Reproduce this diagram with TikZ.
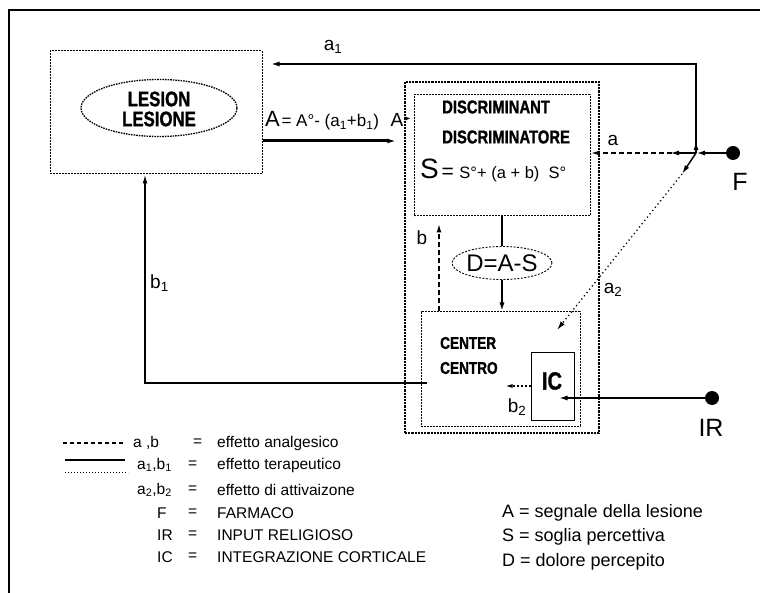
\documentclass[tikz,border=0pt]{standalone}
\usepackage{fontspec}
\setmainfont{Liberation Sans}
\newfontfamily\condfont[FakeStretch=0.8,BoldFeatures={FakeBold=1.2}]{Liberation Sans}
\usepackage{tikz}
\usetikzlibrary{arrows.meta,positioning,shapes.geometric,calc}

\begin{document}
\begin{tikzpicture}[x=1pt,y=-1pt,
  dotbox/.style={draw, line width=1pt, dash pattern=on 1.6pt off 1.4pt, inner sep=0pt},
  denbox/.style={draw, line width=1.4pt, dash pattern=on 2.2pt off 1pt, inner sep=0pt},
  caps/.style={align=left, inner sep=0pt},
  lbl/.style={font=\fontsize{19}{22}\selectfont, inner sep=0pt},
  leg/.style={font=\fontsize{15.5}{18}\selectfont, inner sep=0pt, anchor=west},
  legr/.style={font=\fontsize{18}{20}\selectfont, inner sep=0pt, anchor=west},
  arr/.style={-{Latex[length=9pt,width=5pt]}},
  blob/.style={circle, fill, minimum size=14pt, inner sep=0pt}
]
\useasboundingbox (0,0) rectangle (760,593);
% frame
\draw[line width=1.3pt] (9,593) -- (9,10) -- (760,10);

% lesion
\node[dotbox, minimum width=212pt, minimum height=123pt] (lesbox) at (156,112.5) {};
\node[draw, ellipse, line width=1.3pt, dash pattern=on 1.6pt off 1pt,
      minimum width=156pt, minimum height=57pt, inner sep=0pt] (lesell) at (159,108) {};
\node[caps, align=center, font=\condfont\bfseries\fontsize{21}{20}\selectfont] (leslbl) at (159,109) {LESION\\LESIONE};

% discriminant
\node[denbox, minimum width=194pt, minimum height=351pt] (discouter) at (502,257.5) {};
\node[dotbox, minimum width=176pt, minimum height=121pt] (discbox) at (502,155.5) {};
\node[caps, anchor=west, font=\condfont\bfseries\fontsize{18.5}{30}\selectfont] (disclbl) at (442,122) {DISCRIMINANT\\DISCRIMINATORE};
\node[inner sep=0pt, anchor=base west] (sform) at (420,179)
  {{\fontsize{28}{28}\selectfont S} {\fontsize{21}{21}\selectfont =}\ \ {\fontsize{16.5}{16}\selectfont S°+ (a + b)\ \ S°}};

\node[draw, ellipse, line width=0.9pt, dash pattern=on 2pt off 1.5pt,
      minimum width=100pt, minimum height=33pt, inner sep=0pt] (dell) at (502,263) {};
\node[inner sep=0pt, font=\fontsize{24}{24}\selectfont] (dlbl) at (502,263) {D=A-S};

% center
\node[dotbox, minimum width=159pt, minimum height=114pt] (centbox) at (500.5,369) {};
\node[caps, anchor=west, font=\condfont\bfseries\fontsize{17}{25}\selectfont] (centlbl) at (440,355.5) {CENTER\\CENTRO};
\node[draw, line width=0.9pt, minimum width=43pt, minimum height=68pt, inner sep=0pt] (icbox) at (552.5,386) {};
\node[inner sep=0pt, font=\condfont\bfseries\fontsize{25}{25}\selectfont] (iclbl) at (552,381) {IC};

% inputs
\node[blob] (Fdot) at (733,153) {};
\node[inner sep=0pt, font=\fontsize{25}{25}\selectfont] (Flbl) at (740,182) {F};
\node[blob] (IRdot) at (712,398) {};
\node[inner sep=0pt, font=\fontsize{25}{25}\selectfont] (IRlbl) at (711,428) {IR};

\coordinate (jct) at (696,153);
\coordinate (a1top) at (696,64);
\coordinate (a2mid) at (682,174);
\coordinate (a2end) at (557,330);

% F paths
\draw[line width=1.8pt, arr] (Fdot) -- (jct);
\draw[line width=1.8pt, arr] (jct) -- ++(0,-12);
\draw[line width=1.8pt, arr, shorten >=8pt] (jct) -- (a1top) -- (a1top -| lesbox.east);
\node[lbl] (a1lbl) at (333,47) {a\textsubscript{1}};
\draw[line width=1.7pt, dash pattern=on 5pt off 3pt, arr] (jct) -- (discbox.east |- jct);
\draw[line width=1.7pt, arr] (jct) -- ++(-26,0);
\node[lbl] (albl) at (613,140) {a};
\draw[line width=1.5pt, arr] (jct) -- (a2mid);
\draw[line width=1.3pt, dash pattern=on 1.2pt off 3pt, arr] (a2mid) -- (a2end);
\node[lbl] (a2lbl) at (613,290) {a\textsubscript{2}};

% lesion signal
\draw[line width=3pt, arr, shorten >=8pt] ([yshift=-28.5pt]lesbox.east) -- ([yshift=-28.5pt]lesbox.east -| discouter.west);
\node[inner sep=0pt, anchor=base west] (Aform) at (265,127)
  {{\fontsize{22}{22}\selectfont A}\,{\fontsize{17}{17}\selectfont = A°- (a\textsubscript{1}+b\textsubscript{1})}};
\node[inner sep=0pt, anchor=base, font=\fontsize{19}{19}\selectfont] (Asig) at (397,127) {A};
\draw[line width=1pt, -{Latex[length=5pt,width=4pt]}] ([yshift=2pt]Asig.east) -- ++(7,0);

% D links
\draw[line width=2.4pt] (discbox.south) -- (dell.north);
\draw[line width=2.4pt, arr] (dell.south) -- (dell.south |- centbox.north);
\draw[line width=1.7pt, dash pattern=on 5pt off 3pt, arr, shorten >=7pt]
  ([xshift=-61.5pt]centbox.north) -- ([xshift=-61.5pt]centbox.north |- discbox.south);
\node[lbl] (blbl) at (422,238) {b};

% feedback b1
\draw[line width=1.5pt, arr] ([xshift=6pt,yshift=-14pt]centbox.west) -| ([xshift=-11pt]lesbox.south);
\node[lbl, anchor=west] (b1lbl) at (150,283) {b\textsubscript{1}};

% b2 and IR
\draw[line width=1.1pt, dash pattern=on 1.5pt off 2.5pt, -{Latex[length=7pt,width=4pt]}] (icbox.west) -- ++(-25,0);
\node[lbl] (b2lbl) at (517,407) {b\textsubscript{2}};
\draw[line width=2.6pt, arr] (IRdot) -- ([xshift=6pt]IRdot -| icbox.center);

% legend
\draw[line width=1.1pt, dash pattern=on 4pt off 3pt] (63,443) -- (123,443);
\draw[line width=1.6pt] (65,460) -- (125,460);
\draw[line width=0.9pt, dash pattern=on 1pt off 2pt] (65,472) -- (128,472);
\node[leg] (lg1) at (133,443) {a ,b};
\node[leg] (lg2) at (137,465) {a\textsubscript{1},b\textsubscript{1}};
\node[leg] (lg3) at (137,490) {a\textsubscript{2},b\textsubscript{2}};
\node[leg] (lg4) at (157,513) {F};
\node[leg] (lg5) at (157,535) {IR};
\node[leg] (lg6) at (157,557) {IC};
\node[leg] (eq1) at (193,443) {=};
\node[leg] (eq2) at (188,465) {=};
\node[leg] (eq3) at (188,490) {=};
\node[leg] (eq4) at (188,513) {=};
\node[leg] (eq5) at (188,535) {=};
\node[leg] (eq6) at (188,557) {=};
\node[leg] (tx1) at (217,443) {effetto analgesico};
\node[leg] (tx2) at (217,465) {effetto terapeutico};
\node[leg] (tx3) at (217,490) {effetto di attivaizone};
\node[leg] (tx4) at (217,513) {FARMACO};
\node[leg] (tx5) at (217,535) {INPUT RELIGIOSO};
\node[leg] (tx6) at (217,557) {INTEGRAZIONE CORTICALE};
\node[legr] (rl1) at (502,513) {A = segnale della lesione};
\node[legr] (rl2) at (502,537) {S = soglia percettiva};
\node[legr] (rl3) at (502,562) {D = dolore percepito};
\end{tikzpicture}
\end{document}
